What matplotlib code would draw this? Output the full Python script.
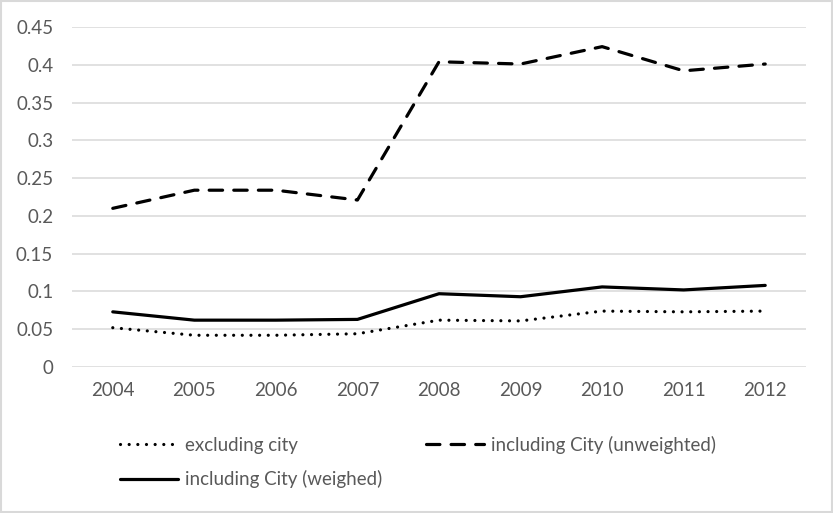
import matplotlib.pyplot as plt
from matplotlib.patches import Rectangle

years = ['2004', '2005', '2006', '2007', '2008', '2009', '2010', '2011', '2012']
excluding_city = [0.052, 0.042, 0.042, 0.044, 0.062, 0.061, 0.074, 0.073, 0.074]
incl_unweighted = [0.210, 0.234, 0.234, 0.221, 0.404, 0.401, 0.424, 0.392, 0.401]
incl_weighed = [0.073, 0.062, 0.062, 0.063, 0.097, 0.093, 0.106, 0.102, 0.108]
yticks = [0, 0.05, 0.1, 0.15, 0.2, 0.25, 0.3, 0.35, 0.4, 0.45]
ytick_labels = ['0', '0.05', '0.1', '0.15', '0.2', '0.25', '0.3', '0.35', '0.4', '0.45']

plt.rcParams['font.family'] = ['Lato', 'DejaVu Sans']
text_color = '#595959'
grid_color = '#d9d9d9'

fig = plt.figure(figsize=(8.33, 5.13), dpi=100)
ax = fig.add_axes([72 / 833, 1 - 367 / 513, 734 / 833, 340 / 513])

x = list(range(len(years)))
lw = 2.3
l_excl, = ax.plot(x, excluding_city, color='black', lw=lw, dash_capstyle='round')
l_excl.set_dashes([0.01, 2.7])
l_unw, = ax.plot(x, incl_unweighted, color='black', lw=lw, dash_capstyle='round')
l_unw.set_dashes([4.2, 3.5])
l_w, = ax.plot(x, incl_weighed, color='black', lw=lw, solid_capstyle='round')

ax.set_xlim(-0.5, len(years) - 0.5)
ax.set_ylim(0, 0.45)
ax.set_xticks(x)
ax.set_xticklabels(years)
ax.set_yticks(yticks)
ax.set_yticklabels(ytick_labels)
ax.tick_params(axis='both', length=0, labelsize=13.5, labelcolor=text_color)
ax.tick_params(axis='y', pad=13.5)
ax.tick_params(axis='x', pad=10.5)
ax.grid(axis='y', color=grid_color, lw=1.1)
ax.set_axisbelow(True)
for s in ax.spines.values():
    s.set_visible(False)

leg = fig.legend([l_excl, l_w, l_unw],
                 ['excluding city', 'including City (weighed)', 'including City (unweighted)'],
                 ncol=2, loc='center left', bbox_to_anchor=(120 / 833, 1 - 462 / 513),
                 frameon=False, fontsize=13.5, handlelength=3.1, handletextpad=0.35,
                 columnspacing=2.35, labelspacing=0.9, borderpad=0, borderaxespad=0)
for t in leg.get_texts():
    t.set_color(text_color)

fig.patches.append(Rectangle((1 / 833, 1 / 513), 831 / 833, 511 / 513, transform=fig.transFigure,
                             fill=False, edgecolor=grid_color, lw=1.5))

fig.savefig('out.png', dpi=100)
